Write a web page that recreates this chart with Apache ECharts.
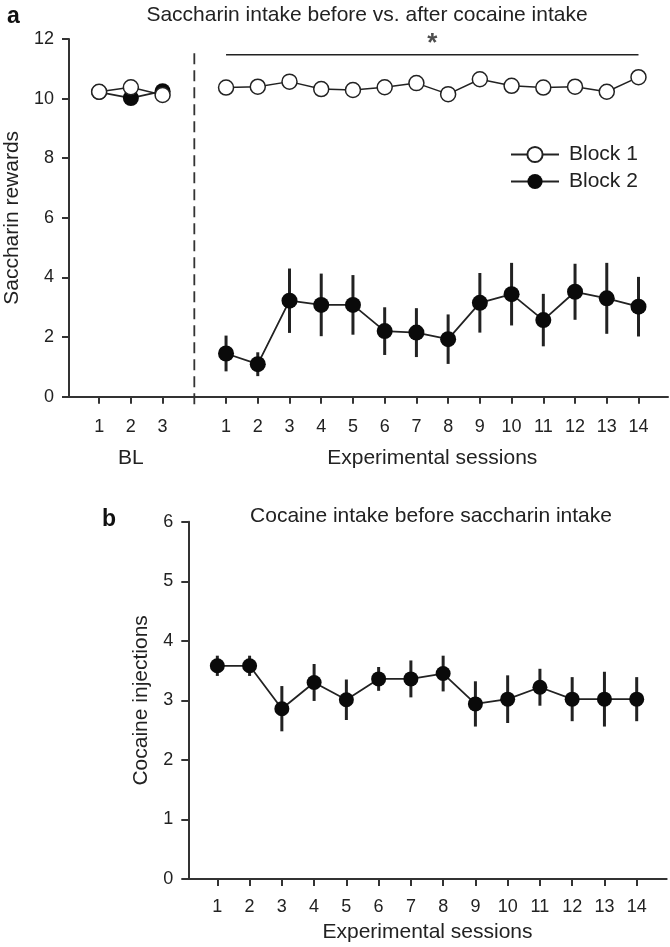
<!DOCTYPE html>
<html><head><meta charset="utf-8">
<script src="https://cdn.jsdelivr.net/npm/echarts@6/dist/echarts.min.js"></script>
<style>html,body{margin:0;padding:0;background:#fff}#c{width:670px;height:947px}</style>
</head><body><div id="c"></div>
<script>
// ---------- data ----------
const blLabels = ['1','2','3'];
const expLabels = ['1','2','3','4','5','6','7','8','9','10','11','12','13','14'];
const satBlock1BL = [10.23, 10.38, 10.12];
const satBlock2BL = [10.22, 10.02, 10.25];
const satBlock1Exp = [10.37, 10.40, 10.57, 10.32, 10.29, 10.38, 10.52, 10.15, 10.65, 10.43, 10.37, 10.40, 10.23, 10.72];
const satBlock2Exp = [1.45, 1.09, 3.22, 3.08, 3.08, 2.20, 2.15, 1.93, 3.15, 3.44, 2.57, 3.52, 3.30, 3.02];
const satBlock2ExpErr = [0.60, 0.40, 1.08, 1.05, 1.00, 0.80, 0.82, 0.83, 1.00, 1.05, 0.88, 0.94, 1.19, 1.00];
const sigLevel = 11.47;
const cocSessions = ['1','2','3','4','5','6','7','8','9','10','11','12','13','14'];
const cocMean = [3.58, 3.58, 2.86, 3.30, 3.01, 3.36, 3.36, 3.45, 2.94, 3.02, 3.22, 3.02, 3.02, 3.02];
const cocErr = [0.17, 0.17, 0.38, 0.31, 0.34, 0.20, 0.31, 0.30, 0.38, 0.40, 0.31, 0.37, 0.46, 0.37];

// ---------- build ----------
const FONT = 'Liberation Sans, Arial, Helvetica, sans-serif';
const INK = '#222';
const AX = '#333';
const blX = i => i;
const expX = i => i + blLabels.length + 1;
const dividerX = blLabels.length;

const labelMapA = {};
blLabels.forEach((l, i) => labelMapA[blX(i)] = l);
expLabels.forEach((l, i) => labelMapA[expX(i)] = l);
const tickValsA = Object.keys(labelMapA).map(Number);

const zip = (xs, f) => xs.map((v, i) => [f(i), v]);

function errRender(params, api) {
  const x = api.value(0), lo = api.value(1), hi = api.value(2);
  const p1 = api.coord([x, lo]), p2 = api.coord([x, hi]);
  return { type: 'line', shape: { x1: p1[0], y1: p1[1], x2: p2[0], y2: p2[1] },
           style: { stroke: INK, lineWidth: 3 } };
}

const openCircle = { symbol: 'circle', symbolSize: 15,
  itemStyle: { color: '#fff', borderColor: INK, borderWidth: 1.5 },
  lineStyle: { color: INK, width: 1.5 } };
const filledCircle = { symbol: 'circle', symbolSize: 16,
  itemStyle: { color: '#0a0a0a', borderColor: '#0a0a0a', borderWidth: 0 },
  lineStyle: { color: INK, width: 1.8 } };

const axisCommon = {
  axisLine: { show: true, onZero: false, lineStyle: { color: AX, width: 2 } },
  axisTick: { show: true, inside: false, length: 7, lineStyle: { color: AX, width: 2 } },
  splitLine: { show: false },
  axisLabel: { color: INK, fontSize: 18, fontFamily: FONT }
};

const option = {
  animation: false,
  backgroundColor: '#fff',
  textStyle: { fontFamily: FONT },
  title: [
    { text: 'a', left: 2, top: 0, textStyle: { fontSize: 23, fontWeight: 'bold', color: '#111', fontFamily: FONT } },
    { text: 'Saccharin intake before vs. after cocaine intake', left: 362, top: 0, textAlign: 'center',
      textStyle: { fontSize: 21, fontWeight: 'normal', color: INK, fontFamily: FONT } },
    { text: 'b', left: 97, top: 503, textStyle: { fontSize: 23, fontWeight: 'bold', color: '#111', fontFamily: FONT } },
    { text: 'Cocaine intake before saccharin intake', left: 426, top: 501, textAlign: 'center',
      textStyle: { fontSize: 21, fontWeight: 'normal', color: INK, fontFamily: FONT } }
  ],
  legend: {
    data: ['Block 1', 'Block 2'],
    orient: 'vertical', left: 505, top: 139,
    itemWidth: 48, itemHeight: 19, itemGap: 6,
    textStyle: { fontSize: 21, color: INK, fontFamily: FONT, lineHeight: 21, padding: [0, 0, 0, 5] },
    selectedMode: false
  },
  grid: [
    { left: 69, right: 2, top: 39, bottom: 550.3, containLabel: false, outerBoundsMode: 'none' },
    { left: 188.3, right: 3.3, top: 521.7, bottom: 68, containLabel: false, outerBoundsMode: 'none' }
  ],
  xAxis: [
    Object.assign({}, axisCommon, {
      type: 'value', gridIndex: 0, min: -0.95, max: 17.93, position: 'bottom',
      axisTick: Object.assign({}, axisCommon.axisTick, { customValues: tickValsA }),
      axisLabel: Object.assign({}, axisCommon.axisLabel, { customValues: tickValsA, margin: 21,
        formatter: v => labelMapA[v] || '' })
    }),
    {
      type: 'value', gridIndex: 0, min: -0.95, max: 17.93, position: 'bottom', offset: 0,
      axisLine: { show: false, onZero: false }, axisTick: { show: false }, splitLine: { show: false },
      axisLabel: { show: true, customValues: [blX(1), (expX(0) + expX(expLabels.length - 1)) / 2],
        margin: 51, fontSize: 21, color: INK, fontFamily: FONT,
        formatter: v => v === blX(1) ? 'BL' : 'Experimental sessions' }
    },
    Object.assign({}, axisCommon, {
      type: 'value', gridIndex: 1, min: 0.1, max: 14.93,
      axisTick: Object.assign({}, axisCommon.axisTick, { customValues: cocSessions.map((s, i) => i + 1) }),
      axisLabel: Object.assign({}, axisCommon.axisLabel, { customValues: cocSessions.map((s, i) => i + 1), margin: 19,
        formatter: v => cocSessions[v - 1] || '' }),
      name: 'Experimental sessions', nameLocation: 'middle', nameGap: 43,
      nameTextStyle: { fontSize: 21, color: INK, fontFamily: FONT }
    })
  ],
  yAxis: [
    Object.assign({}, axisCommon, {
      type: 'value', gridIndex: 0, min: 0, max: 12, interval: 2,
      axisLabel: Object.assign({}, axisCommon.axisLabel, { margin: 15 }),
      name: 'Saccharin rewards', nameLocation: 'middle', nameGap: 45, nameRotate: 90,
      nameTextStyle: { fontSize: 21, color: INK, fontFamily: FONT }
    }),
    Object.assign({}, axisCommon, {
      type: 'value', gridIndex: 1, min: 0, max: 6, interval: 1,
      axisLabel: Object.assign({}, axisCommon.axisLabel, { margin: 15 }),
      name: 'Cocaine injections', nameLocation: 'middle', nameGap: 37, nameRotate: 90,
      nameTextStyle: { fontSize: 21, color: INK, fontFamily: FONT }
    })
  ],
  series: [
    { type: 'line', xAxisIndex: 0, yAxisIndex: 0, clip: false, symbol: 'none', silent: true,
      data: [[dividerX, -0.25], [dividerX, 11.7]],
      lineStyle: { color: AX, width: 1.8, type: [11, 6] }, z: 1 },
    { type: 'line', xAxisIndex: 0, yAxisIndex: 0, symbol: 'none', silent: true,
      data: [[expX(0), sigLevel], [expX(expLabels.length - 1), sigLevel]],
      lineStyle: { color: INK, width: 1.5 } },
    { type: 'scatter', xAxisIndex: 0, yAxisIndex: 0, symbolSize: 0, silent: true,
      data: [[(expX(0) + expX(expLabels.length - 1)) / 2, sigLevel]],
      label: { show: true, position: 'top', distance: -2, formatter: '*', fontSize: 26, fontWeight: 'bold', color: INK, fontFamily: FONT } },
    { type: 'custom', xAxisIndex: 0, yAxisIndex: 0, renderItem: errRender, silent: true, z: 2,
      data: satBlock2Exp.map((m, i) => [expX(i), m - satBlock2ExpErr[i], m + satBlock2ExpErr[i]]),
      encode: { x: 0, y: [1, 2] } },
    Object.assign({ name: 'Block 2', type: 'line', xAxisIndex: 0, yAxisIndex: 0, z: 3,
      data: zip(satBlock2BL, blX), showAllSymbol: true }, filledCircle),
    Object.assign({ name: 'Block 2', type: 'line', xAxisIndex: 0, yAxisIndex: 0, z: 3,
      data: zip(satBlock2Exp, expX), showAllSymbol: true }, filledCircle),
    Object.assign({ name: 'Block 1', type: 'line', xAxisIndex: 0, yAxisIndex: 0, z: 4,
      data: zip(satBlock1BL, blX), showAllSymbol: true }, openCircle),
    Object.assign({ name: 'Block 1', type: 'line', xAxisIndex: 0, yAxisIndex: 0, z: 4,
      data: zip(satBlock1Exp, expX), showAllSymbol: true }, openCircle),
    { type: 'custom', xAxisIndex: 2, yAxisIndex: 1, renderItem: errRender, silent: true, z: 2,
      data: cocMean.map((m, i) => [i + 1, m - cocErr[i], m + cocErr[i]]),
      encode: { x: 0, y: [1, 2] } },
    Object.assign({ name: 'Cocaine', type: 'line', xAxisIndex: 2, yAxisIndex: 1, z: 3,
      data: zip(cocMean, i => i + 1), showAllSymbol: true }, filledCircle, { symbolSize: 15 })
  ]
};

const chart = echarts.init(document.getElementById('c'), null, { renderer: 'canvas' });
chart.setOption(option);
</script>
</body></html>
